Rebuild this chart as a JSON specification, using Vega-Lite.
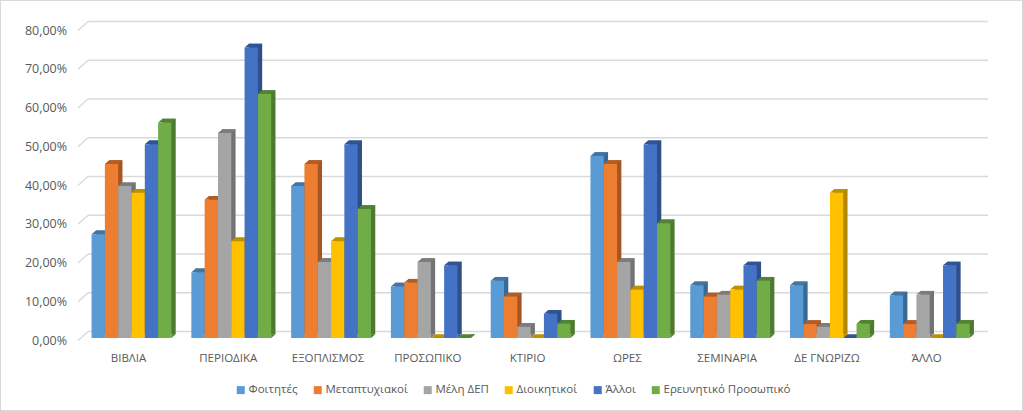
{"$schema":"https://vega.github.io/schema/vega-lite/v6.json","width":1023,"height":411,"padding":0,"autosize":{"type":"none"},"background":"white","config":{"view":{"stroke":"#d9d9d9","strokeWidth":2},"font":"Open Sans"},"datasets":{"rows":[{"c":"ΒΙΒΛΙΑ","s":"Φοιτητές","v":26.8},{"c":"ΒΙΒΛΙΑ","s":"Μεταπτυχιακοί","v":44.9},{"c":"ΒΙΒΛΙΑ","s":"Μέλη ΔΕΠ","v":39.2},{"c":"ΒΙΒΛΙΑ","s":"Διοικητικοί","v":37.5},{"c":"ΒΙΒΛΙΑ","s":"Άλλοι","v":50},{"c":"ΒΙΒΛΙΑ","s":"Ερευνητικό Προσωπικό","v":55.6},{"c":"ΠΕΡΙΟΔΙΚΑ","s":"Φοιτητές","v":17},{"c":"ΠΕΡΙΟΔΙΚΑ","s":"Μεταπτυχιακοί","v":35.7},{"c":"ΠΕΡΙΟΔΙΚΑ","s":"Μέλη ΔΕΠ","v":52.9},{"c":"ΠΕΡΙΟΔΙΚΑ","s":"Διοικητικοί","v":25},{"c":"ΠΕΡΙΟΔΙΚΑ","s":"Άλλοι","v":75},{"c":"ΠΕΡΙΟΔΙΚΑ","s":"Ερευνητικό Προσωπικό","v":63},{"c":"ΕΞΟΠΛΙΣΜΟΣ","s":"Φοιτητές","v":39.2},{"c":"ΕΞΟΠΛΙΣΜΟΣ","s":"Μεταπτυχιακοί","v":44.9},{"c":"ΕΞΟΠΛΙΣΜΟΣ","s":"Μέλη ΔΕΠ","v":19.6},{"c":"ΕΞΟΠΛΙΣΜΟΣ","s":"Διοικητικοί","v":25},{"c":"ΕΞΟΠΛΙΣΜΟΣ","s":"Άλλοι","v":50},{"c":"ΕΞΟΠΛΙΣΜΟΣ","s":"Ερευνητικό Προσωπικό","v":33.3},{"c":"ΠΡΟΣΩΠΙΚΟ","s":"Φοιτητές","v":13.3},{"c":"ΠΡΟΣΩΠΙΚΟ","s":"Μεταπτυχιακοί","v":14.3},{"c":"ΠΡΟΣΩΠΙΚΟ","s":"Μέλη ΔΕΠ","v":19.6},{"c":"ΠΡΟΣΩΠΙΚΟ","s":"Διοικητικοί","v":0},{"c":"ΠΡΟΣΩΠΙΚΟ","s":"Άλλοι","v":18.75},{"c":"ΠΡΟΣΩΠΙΚΟ","s":"Ερευνητικό Προσωπικό","v":0},{"c":"ΚΤΙΡΙΟ","s":"Φοιτητές","v":14.8},{"c":"ΚΤΙΡΙΟ","s":"Μεταπτυχιακοί","v":10.7},{"c":"ΚΤΙΡΙΟ","s":"Μέλη ΔΕΠ","v":2.9},{"c":"ΚΤΙΡΙΟ","s":"Διοικητικοί","v":0},{"c":"ΚΤΙΡΙΟ","s":"Άλλοι","v":6.25},{"c":"ΚΤΙΡΙΟ","s":"Ερευνητικό Προσωπικό","v":3.7},{"c":"ΩΡΕΣ","s":"Φοιτητές","v":47},{"c":"ΩΡΕΣ","s":"Μεταπτυχιακοί","v":44.9},{"c":"ΩΡΕΣ","s":"Μέλη ΔΕΠ","v":19.6},{"c":"ΩΡΕΣ","s":"Διοικητικοί","v":12.5},{"c":"ΩΡΕΣ","s":"Άλλοι","v":50},{"c":"ΩΡΕΣ","s":"Ερευνητικό Προσωπικό","v":29.6},{"c":"ΣΕΜΙΝΑΡΙΑ","s":"Φοιτητές","v":13.6},{"c":"ΣΕΜΙΝΑΡΙΑ","s":"Μεταπτυχιακοί","v":10.7},{"c":"ΣΕΜΙΝΑΡΙΑ","s":"Μέλη ΔΕΠ","v":11.2},{"c":"ΣΕΜΙΝΑΡΙΑ","s":"Διοικητικοί","v":12.5},{"c":"ΣΕΜΙΝΑΡΙΑ","s":"Άλλοι","v":18.75},{"c":"ΣΕΜΙΝΑΡΙΑ","s":"Ερευνητικό Προσωπικό","v":14.8},{"c":"ΔΕ ΓΝΩΡΙΖΩ","s":"Φοιτητές","v":13.6},{"c":"ΔΕ ΓΝΩΡΙΖΩ","s":"Μεταπτυχιακοί","v":3.6},{"c":"ΔΕ ΓΝΩΡΙΖΩ","s":"Μέλη ΔΕΠ","v":2.9},{"c":"ΔΕ ΓΝΩΡΙΖΩ","s":"Διοικητικοί","v":37.5},{"c":"ΔΕ ΓΝΩΡΙΖΩ","s":"Άλλοι","v":0},{"c":"ΔΕ ΓΝΩΡΙΖΩ","s":"Ερευνητικό Προσωπικό","v":3.7},{"c":"ΆΛΛΟ","s":"Φοιτητές","v":11},{"c":"ΆΛΛΟ","s":"Μεταπτυχιακοί","v":3.6},{"c":"ΆΛΛΟ","s":"Μέλη ΔΕΠ","v":11.2},{"c":"ΆΛΛΟ","s":"Διοικητικοί","v":0},{"c":"ΆΛΛΟ","s":"Άλλοι","v":18.75},{"c":"ΆΛΛΟ","s":"Ερευνητικό Προσωπικό","v":3.7}],"levels":[{"g":0},{"g":10},{"g":20},{"g":30},{"g":40},{"g":50},{"g":60},{"g":70},{"g":80}]},"resolve":{"scale":{"x":"independent","y":"shared"}},"layer":[{"data":{"name":"levels"},"mark":{"type":"rule","color":"#d9d9d9","strokeWidth":1.3,"yOffset":-6.5,"y2Offset":-6.5},"encoding":{"x":{"datum":0,"type":"quantitative","axis":null,"scale":{"domain":[0,1],"range":[88,988]}},"x2":{"datum":1},"y":{"field":"g","type":"quantitative","scale":{"domain":[0,80],"range":[338,28]},"axis":{"orient":"left","offset":-81.6,"values":[0,10,20,30,40,50,60,70,80],"title":null,"grid":false,"domain":false,"ticks":false,"labelPadding":15,"labelOffset":2,"labelFontSize":12.5,"labelColor":"#595959","labelExpr":"replace(format(datum.value,'.2f'),'.',',')+'%'"}},"y2":{"field":"g"}}},{"data":{"name":"levels"},"mark":{"type":"rule","color":"#d9d9d9","strokeWidth":1.3,"yOffset":2.5,"y2Offset":-6.5},"encoding":{"x":{"datum":0,"type":"quantitative","axis":null,"scale":{"domain":[0,1],"range":[78,88]}},"x2":{"datum":1},"y":{"field":"g","type":"quantitative"},"y2":{"field":"g"}}},{"data":{"name":"rows"},"resolve":{"scale":{"color":"independent","xOffset":"independent"}},"encoding":{"x":{"field":"c","type":"nominal","sort":null,"scale":{"range":[81.6,979.6],"paddingInner":0.2,"paddingOuter":0.1},"axis":{"orient":"bottom","offset":-73,"title":null,"domain":false,"ticks":false,"labelAngle":0,"labelPadding":14,"labelOffset":-3,"labelFontSize":11.5,"labelColor":"#595959"}},"y":{"field":"v","type":"quantitative"}},"layer":[{"mark":{"type":"bar","yOffset":-3.7,"y2Offset":-3.7},"encoding":{"xOffset":{"field":"s","type":"nominal","sort":null,"scale":{"type":"band","paddingInner":0,"paddingOuter":0,"range":[4.3,84.14]}},"color":{"field":"s","type":"nominal","sort":null,"legend":null,"scale":{"domain":["Φοιτητές","Μεταπτυχιακοί","Μέλη ΔΕΠ","Διοικητικοί","Άλλοι","Ερευνητικό Προσωπικό"],"range":["#386a98","#a55622","#737373","#b38700","#2f4f88","#4e7931"]}}}},{"mark":{"type":"point","filled":true,"opacity":1,"size":4,"shape":"M6.65,0L6.65,-3.7L10.95,-3.7Z"},"encoding":{"xOffset":{"field":"s","type":"nominal","sort":null,"scale":{"type":"band","paddingInner":0,"paddingOuter":0,"range":[0,79.84]}},"y":{"datum":0,"type":"quantitative"},"color":{"field":"s","type":"nominal","sort":null,"legend":null,"scale":{"domain":["Φοιτητές","Μεταπτυχιακοί","Μέλη ΔΕΠ","Διοικητικοί","Άλλοι","Ερευνητικό Προσωπικό"],"range":["#386a98","#a55622","#737373","#b38700","#2f4f88","#4e7931"]}}}},{"mark":{"type":"point","filled":true,"opacity":1,"size":4,"shape":"M-6.65,0L6.65,0L10.95,-3.7L-2.35,-3.7Z"},"encoding":{"xOffset":{"field":"s","type":"nominal","sort":null,"scale":{"type":"band","paddingInner":0,"paddingOuter":0,"range":[0,79.84]}},"color":{"field":"s","type":"nominal","sort":null,"legend":null,"scale":{"domain":["Φοιτητές","Μεταπτυχιακοί","Μέλη ΔΕΠ","Διοικητικοί","Άλλοι","Ερευνητικό Προσωπικό"],"range":["#44749f","#b25d25","#7c7c7c","#bf9000","#2f5597","#548235"]}}}},{"mark":{"type":"bar"},"encoding":{"xOffset":{"field":"s","type":"nominal","sort":null,"scale":{"type":"band","paddingInner":0,"paddingOuter":0,"range":[0,79.84]}},"color":{"field":"s","type":"nominal","sort":null,"scale":{"domain":["Φοιτητές","Μεταπτυχιακοί","Μέλη ΔΕΠ","Διοικητικοί","Άλλοι","Ερευνητικό Προσωπικό"],"range":["#5b9bd5","#ed7d31","#a5a5a5","#ffc000","#4472c4","#70ad47"]},"legend":{"orient":"none","legendX":235,"legendY":384,"direction":"horizontal","columns":6,"title":null,"symbolType":"square","symbolSize":64,"labelFontSize":11.5,"labelColor":"#595959","columnPadding":14,"labelOffset":2}}}}]}]}
